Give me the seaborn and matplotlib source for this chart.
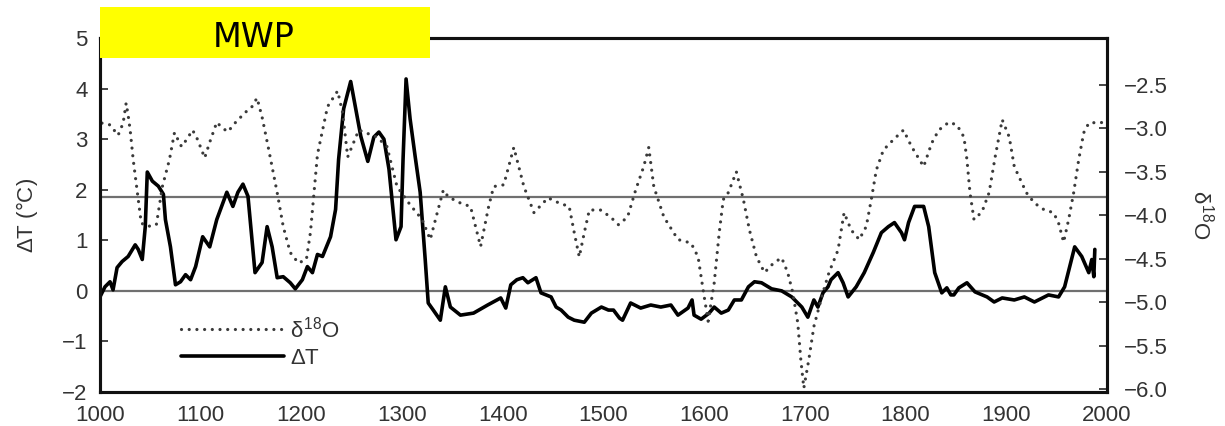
import matplotlib
matplotlib.use('Agg')
import matplotlib.pyplot as plt
import matplotlib.transforms as mtransforms
from matplotlib.patches import Rectangle
import seaborn as sns
import pandas as pd

# δ18O record (right axis)
d18o_years = [1002, 1010, 1018, 1023, 1026, 1028, 1030, 1033, 1038, 1041, 1047, 1056,
              1062, 1069, 1074, 1081, 1086, 1092, 1097, 1104, 1109, 1116, 1121, 1127,
              1134, 1144, 1151, 1156, 1161, 1167, 1176, 1182, 1189, 1197, 1205, 1209,
              1216, 1226, 1236, 1241, 1246, 1257, 1275, 1285, 1295, 1308, 1320, 1328,
              1335, 1341, 1346, 1358, 1368, 1378, 1386, 1391, 1401, 1411, 1421, 1431,
              1445, 1456, 1466, 1471, 1476, 1481, 1486, 1497, 1507, 1515, 1524, 1532,
              1540, 1545, 1550, 1560, 1574, 1587, 1594, 1599, 1604, 1610, 1615, 1619,
              1624, 1632, 1639, 1645, 1652, 1660, 1669, 1677, 1683, 1688, 1693, 1696,
              1699, 1704, 1709, 1718, 1724, 1733, 1739, 1746, 1754, 1761, 1766, 1771,
              1778, 1788, 1798, 1806, 1818, 1826, 1833, 1843, 1851, 1858, 1861, 1864,
              1868, 1876, 1883, 1889, 1896, 1903, 1908, 1920, 1928, 1938, 1947, 1952,
              1957, 1962, 1967, 1972, 1977, 1982, 1992, 2000]
d18o_vals = [-2.94, -2.96, -3.08, -2.94, -2.71, -2.85, -3.02, -3.36, -3.82, -4.09, -4.13, -4.11,
             -3.67, -3.36, -3.05, -3.21, -3.13, -3.02, -3.13, -3.34, -3.16, -2.93, -2.99, -3.04,
             -2.94, -2.82, -2.75, -2.65, -2.87, -3.21, -3.74, -4.13, -4.43, -4.55, -4.51, -4.20,
             -3.30, -2.75, -2.57, -2.82, -3.33, -3.02, -3.10, -3.21, -3.67, -3.88, -4.05, -4.28,
             -3.97, -3.71, -3.79, -3.86, -3.90, -4.36, -3.90, -3.67, -3.65, -3.22, -3.67, -3.97,
             -3.80, -3.86, -3.90, -4.20, -4.48, -4.20, -3.94, -3.94, -4.02, -4.11, -4.02, -3.71,
             -3.44, -3.22, -3.67, -4.02, -4.28, -4.32, -4.48, -4.86, -5.22, -4.78, -4.20, -3.82,
             -3.74, -3.50, -3.82, -4.17, -4.48, -4.66, -4.55, -4.49, -4.66, -4.89, -5.24, -5.66,
             -5.99, -5.66, -5.28, -4.89, -4.66, -4.40, -3.97, -4.17, -4.28, -4.13, -3.82, -3.48,
             -3.25, -3.13, -3.02, -3.21, -3.44, -3.17, -3.02, -2.93, -2.96, -3.10, -3.36, -3.74,
             -4.05, -3.96, -3.74, -3.33, -2.90, -3.10, -3.44, -3.74, -3.86, -3.94, -3.97, -4.09,
             -4.31, -4.05, -3.74, -3.36, -3.05, -2.94, -2.93, -2.94]

# temperature anomaly (left axis)
dt_years = [1000, 1005, 1010, 1013, 1017, 1022, 1028, 1035, 1038, 1042, 1045, 1047,
            1052, 1058, 1063, 1065, 1070, 1075, 1080, 1085, 1090, 1095, 1102, 1109,
            1116, 1126, 1132, 1137, 1142, 1147, 1154, 1161, 1166, 1171, 1176, 1182,
            1189, 1194, 1201, 1206, 1211, 1216, 1221, 1229, 1234, 1237, 1242, 1249,
            1254, 1259, 1266, 1272, 1277, 1282, 1287, 1291, 1294, 1299, 1301, 1304,
            1308, 1313, 1318, 1323, 1326, 1331, 1338, 1343, 1348, 1358, 1371, 1385,
            1398, 1403, 1408, 1414, 1420, 1425, 1433, 1438, 1448, 1453, 1458, 1465,
            1471, 1481, 1488, 1498, 1505, 1510, 1516, 1519, 1527, 1537, 1547, 1557,
            1567, 1574, 1584, 1588, 1590, 1597, 1605, 1610, 1617, 1624, 1630, 1637,
            1644, 1650, 1657, 1667, 1677, 1687, 1697, 1703, 1709, 1713, 1718, 1723,
            1726, 1733, 1738, 1743, 1751, 1759, 1768, 1776, 1783, 1789, 1796, 1799,
            1803, 1809, 1818, 1823, 1829, 1836, 1841, 1845, 1848, 1853, 1861, 1869,
            1881, 1888, 1896, 1908, 1918, 1928, 1942, 1952, 1958, 1968, 1975, 1982,
            1985, 1987, 1988]
dt_vals = [-0.12, 0.08, 0.18, 0.02, 0.46, 0.58, 0.68, 0.91, 0.82, 0.62, 1.27, 2.35,
           2.17, 2.07, 1.91, 1.41, 0.87, 0.12, 0.18, 0.32, 0.22, 0.48, 1.07, 0.87,
           1.41, 1.95, 1.67, 1.95, 2.11, 1.87, 0.36, 0.56, 1.27, 0.87, 0.26, 0.28,
           0.16, 0.04, 0.22, 0.48, 0.36, 0.72, 0.68, 1.07, 1.61, 2.60, 3.60, 4.14,
           3.60, 3.06, 2.56, 3.04, 3.14, 3.00, 2.41, 1.61, 1.01, 1.27, 2.60, 4.19,
           3.40, 2.66, 1.95, 0.62, -0.24, -0.38, -0.58, 0.08, -0.32, -0.48, -0.44, -0.28,
           -0.14, -0.34, 0.12, 0.22, 0.26, 0.16, 0.26, -0.04, -0.12, -0.32, -0.38, -0.52,
           -0.58, -0.62, -0.44, -0.32, -0.38, -0.38, -0.54, -0.58, -0.24, -0.34, -0.28, -0.32,
           -0.28, -0.48, -0.34, -0.18, -0.48, -0.56, -0.44, -0.32, -0.44, -0.38, -0.18, -0.18,
           0.08, 0.18, 0.16, 0.04, 0.00, -0.12, -0.32, -0.52, -0.18, -0.32, -0.04, 0.08,
           0.22, 0.36, 0.16, -0.12, 0.08, 0.36, 0.76, 1.15, 1.27, 1.35, 1.15, 1.01,
           1.35, 1.67, 1.67, 1.27, 0.36, -0.04, 0.06, -0.08, -0.08, 0.06, 0.16, -0.02,
           -0.12, -0.22, -0.14, -0.18, -0.12, -0.22, -0.08, -0.12, 0.08, 0.87, 0.68, 0.36,
           0.62, 0.28, 0.82]

ref_levels = [0.0, 1.86]
left_ticks = [-2, -1, 0, 1, 2, 3, 4, 5]
right_ticks = [-6.0, -5.5, -5.0, -4.5, -4.0, -3.5, -3.0, -2.5]
x_ticks = [1000, 1100, 1200, 1300, 1400, 1500, 1600, 1700, 1800, 1900, 2000]

df_o = pd.DataFrame({'year': d18o_years, 'd18o': d18o_vals})
df_t = pd.DataFrame({'year': dt_years, 'dt': dt_vals})

sns.set_theme(style='white')
plt.rcParams['font.family'] = ['Liberation Sans', 'DejaVu Sans']
plt.rcParams['mathtext.fontset'] = 'custom'
plt.rcParams['mathtext.rm'] = 'Liberation Sans'
plt.rcParams['mathtext.it'] = 'Liberation Sans'

txt = '#333333'
fig = plt.figure(figsize=(12.25, 4.26), dpi=100)
ax = fig.add_axes([0.0816, 0.0798, 0.822, 0.831])
ax2 = ax.twinx()

for y in ref_levels:
    ax.axhline(y, color='#707070', lw=1.6, zorder=1)

# dotted δ18O curve, round dots
sns.lineplot(data=df_o, x='year', y='d18o', ax=ax2, color='#3a3a3a', lw=2.3,
             linestyle=(0, (0.01, 2.4)), dash_capstyle='round', label='$\\delta^{18}$O',
             legend=False)
sns.lineplot(data=df_t, x='year', y='dt', ax=ax, color='black', lw=2.6,
             label='$\\Delta$T', legend=False)

ax.set_xlim(1000, 2000)
ax.set_ylim(-2, 5)
ax2.set_ylim(-6.035, -1.96)
ax.set_xticks(x_ticks)
ax.set_yticks(left_ticks)
ax2.set_yticks(right_ticks)
ax2.set_yticklabels([f'{v:.1f}'.replace('-', '\u2212') for v in right_ticks])
ax.set_xlabel('')
ax.set_ylabel('$\\Delta$T (°C)', fontsize=16, color=txt, labelpad=16)
ax2.set_ylabel('$\\delta^{18}$O', fontsize=16, color=txt, rotation=-90, labelpad=34)

ax.tick_params(axis='both', direction='in', length=6, width=1.2, labelsize=16,
               labelcolor=txt, pad=9)
ax2.tick_params(axis='y', direction='in', length=6, width=1.2, labelsize=16,
                labelcolor=txt, pad=12)
for a in (ax, ax2):
    for s in a.spines.values():
        s.set_color('#111111')
        s.set_linewidth(2.2)

handles = [ax2.get_lines()[0], ax.get_lines()[-1]]
ax.legend(handles=handles, labels=['$\\delta^{18}$O', '$\\Delta$T'], loc='center left',
          bbox_to_anchor=(0.072, 0.14), frameon=False, fontsize=16, handlelength=4.6,
          handletextpad=0.3, labelspacing=0.25, borderaxespad=0, labelcolor=txt)

# MWP banner
trans = mtransforms.blended_transform_factory(ax2.transData, ax2.transAxes)
ax2.add_patch(Rectangle((1000, 0.9435), 328, 0.144, transform=trans,
                        facecolor='#ffff00', edgecolor='none', clip_on=False, zorder=10))
ax2.text(1153, 1.0, 'MWP', transform=trans, ha='center', va='center', fontsize=24,
         family='DejaVu Sans', color='black', zorder=11, clip_on=False)

fig.savefig('out.png', dpi=100)
